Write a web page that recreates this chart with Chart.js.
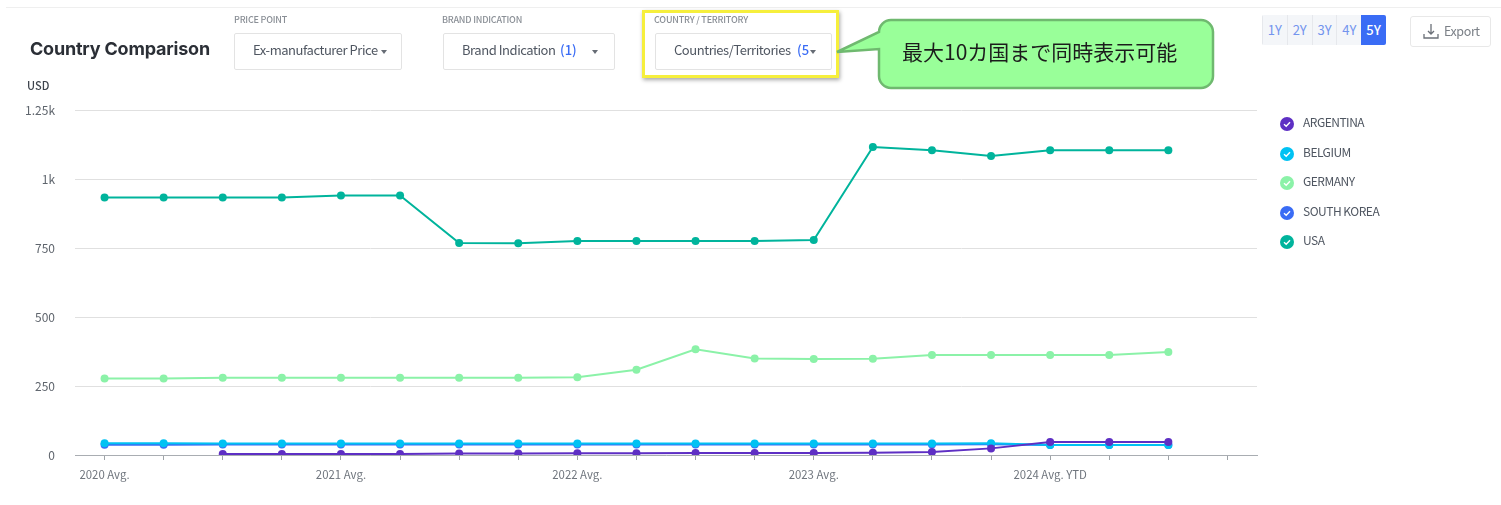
<!DOCTYPE html>
<html>
<head>
<meta charset="utf-8">
<title>Country Comparison</title>
<script src="https://cdn.jsdelivr.net/npm/chart.js@4"></script>
<style>
    html, body { margin: 0; padding: 0; background: #fff; }
    body { width: 1501px; height: 505px; position: relative; overflow: hidden; font-family: "Noto Sans CJK JP", sans-serif; color: #4f5661; }
    #chart { position: absolute; left: 0; top: 0; }
    .abs { position: absolute; white-space: nowrap; }
    .topline { left: 6px; right: 0; top: 7px; height: 1px; background: #efefef; }
    .title { left: 30px; top: 36px; font: 700 18px/26px Inter, sans-serif; color: #2b2f36; letter-spacing: -0.2px; }
    .unit { left: 27px; top: 78px; font-size: 11px; line-height: 14px; font-weight: 500; color: #3d434c; }
    .lab { font-size: 9px; line-height: 12px; font-weight: 500; color: #8a8f96; letter-spacing: -0.2px; }
    .drop { box-sizing: border-box; height: 37px; top: 33px; border: 1px solid #e3e3e3; border-radius: 2px; background: #fff; }
    .drop span { position: absolute; top: 6px; font-size: 13px; line-height: 20px; color: #4f5661; letter-spacing: -0.45px; }
    .drop span.n { color: #3a6cf5; font-weight: 500; letter-spacing: 0; }
    .caret { position: absolute; top: 16px; width: 0; height: 0; border-left: 3.5px solid transparent; border-right: 3.5px solid transparent; border-top: 4px solid #666c75; }
    .yellow { box-sizing: border-box; left: 642px; top: 10px; width: 197px; height: 68px; border: 3px solid #f6ef3c; box-shadow: 1px 2px 4px rgba(0,0,0,.35); }
    .range { left: 1262px; top: 15px; height: 30px; display: flex; border-radius: 2px; overflow: hidden; }
    .range div { width: 24.8px; text-align: center; font-size: 13px; line-height: 30px; background: #f4f6f9; color: #7394ee; border-left: 1px solid #e6e8ec; box-sizing: border-box; }
    .range div.on { background: #3a6cf5; color: #fff; border-left: 0; font-weight: 500; }
    .export { box-sizing: border-box; left: 1410px; top: 16px; width: 81px; height: 31px; border: 1px solid #e8e8e8; border-radius: 3px; }
    .export span { position: absolute; left: 33px; top: 4px; font-size: 12.5px; line-height: 20px; color: #7b8087; letter-spacing: -0.4px; }
    .leg { left: 1303px; font-size: 12px; line-height: 16px; color: #4f5661; letter-spacing: -0.5px; }
</style>
</head>
<body>
<canvas id="chart" width="1501" height="505"></canvas>

<div class="abs topline"></div>
<div class="abs title">Country Comparison</div>
<div class="abs unit">USD</div>

<div class="abs lab" style="left:234px;top:14px">PRICE POINT</div>
<div class="abs drop" style="left:234px;width:168px">
    <span style="left:18px">Ex-manufacturer Price</span><i class="caret" style="left:146px"></i>
</div>
<div class="abs lab" style="left:442px;top:14px">BRAND INDICATION</div>
<div class="abs drop" style="left:443px;width:172px">
    <span style="left:18px">Brand Indication</span><span class="n" style="left:116px">(1)</span><i class="caret" style="left:148px"></i>
</div>
<div class="abs yellow"></div>
<div class="abs lab" style="left:654px;top:14px">COUNTRY / TERRITORY</div>
<div class="abs drop" style="left:655px;width:177px">
    <span style="left:18px">Countries/Territories</span><span class="n" style="left:141px">(5</span><i class="caret" style="left:154px"></i>
</div>

<svg class="abs" style="left:830px;top:15px" width="390" height="80">
    <path d="M61 5 H371 a12 12 0 0 1 12 12 V61 a12 12 0 0 1 -12 12 H61 a12 12 0 0 1 -12 -12 V34 L7 37 L49 17 a12 12 0 0 1 12 -12 Z"
          fill="#99ff99" stroke="#6fb96f" stroke-width="2.5"/>
</svg>
<div class="abs" style="left:902px;top:36px;font-size:21px;line-height:30px;color:#1c1c1c">最大10カ国まで同時表示可能</div>

<div class="abs range" id="range"></div>
<div class="abs export">
    <svg style="position:absolute;left:12px;top:6px" width="17" height="17" fill="none" stroke="#6b7078" stroke-width="1.3">
        <path d="M8 1 V11 M5 8 L8 11 L11 8 M1 11 V15 H15 V11"/>
    </svg>
    <span>Export</span>
</div>

<script>
const categories = [
    "2020 Avg.", "", "", "", "2021 Avg.", "", "", "", "2022 Avg.", "", "", "", "2023 Avg.", "", "", "", "2024 Avg. YTD", "", "", ""
];
const yTicks = [0, 250, 500, 750, 1000, 1250];
const yTickLabels = ["0", "250", "500", "750", "1k", "1.25k"];
const rangeLabels = ["1Y", "2Y", "3Y", "4Y", "5Y"];

const seriesNames = ["ARGENTINA", "BELGIUM", "GERMANY", "SOUTH KOREA", "USA"];
const seriesColors = ["#5e2fc4", "#00c2f3", "#8bf2a8", "#3a6cf5", "#00b49c"];

const argentina = [null, null, 4, 4, 4, 4, 5, 5, 6, 6, 7, 7, 7, 8, 11, 24, 47, 47, 47];
const belgium = [43, 43, 42, 42, 42, 42, 42, 42, 42, 42, 42, 42, 42, 42, 42, 43, 36, 36, 36];
const germany = [277, 277, 280, 280, 280, 280, 280, 280, 282, 309, 383, 350, 348, 349, 362, 362, 362, 362, 373];
const southKorea = [37, 37, 38, 38, 38, 38, 38, 38, 38, 38, 38, 38, 38, 38, 38, 39, 36, 36, 36];
const usa = [933, 933, 933, 933, 940, 940, 768, 767, 775, 775, 775, 775, 779, 1116, 1104, 1083, 1104, 1104, 1104];

// first dataset ends up on top, same stacking as the reference
const seriesValues = [argentina, belgium, southKorea, germany, usa];
const seriesOrder = [0, 1, 3, 2, 4];

function makeDataset(values, i) {
    const color = seriesColors[seriesOrder[i]];
    return {
        label: seriesNames[seriesOrder[i]],
        data: values,
        borderColor: color,
        backgroundColor: color,
        pointBackgroundColor: color,
        pointBorderColor: color,
        pointRadius: 4,
        pointBorderWidth: 0,
        borderWidth: 2,
        tension: 0
    };
}

new Chart(document.getElementById("chart").getContext("2d"), {
    type: "line",
    data: {
        labels: categories,
        datasets: seriesValues.map(makeDataset)
    },
    options: {
        responsive: false,
        animation: false,
        layout: { padding: { left: 0, top: 110, right: 244, bottom: 0 } },
        plugins: { legend: { display: false }, tooltip: { enabled: false } },
        scales: {
            x: {
                offset: true,
                afterFit: s => { s.height = 50; },
                border: { color: "#a9adb2", width: 1 },
                grid: { drawOnChartArea: false, tickLength: 5, tickColor: "#9ea3a8", offset: false },
                ticks: {
                    autoSkip: false,
                    maxRotation: 0,
                    padding: 8,
                    color: "#6f757d",
                    font: { family: "Noto Sans CJK JP", size: 11.4 }
                }
            },
            y: {
                min: 0,
                max: 1250,
                afterFit: s => { s.width = 75; },
                afterBuildTicks: s => { s.ticks = yTicks.map(v => ({ value: v })); },
                border: { display: false },
                grid: { color: "#e0e0e0", drawTicks: false },
                ticks: {
                    padding: 20,
                    color: "#5f656d",
                    font: { family: "Noto Sans CJK JP", size: 12 },
                    callback: v => yTickLabels[yTicks.indexOf(v)]
                }
            }
        }
    }
});

document.getElementById("range").innerHTML = rangeLabels
    .map(r => `<div class="${r === "5Y" ? "on" : ""}">${r}</div>`)
    .join("");

// legend sits right of the plot, one row per country
seriesNames.forEach((name, i) => {
    const top = 124 + i * 29.6;
    document.body.insertAdjacentHTML("beforeend", `
        <svg class="abs" style="left:1280px;top:${top - 7}px" width="14" height="14">
            <circle cx="7" cy="7" r="7" fill="${seriesColors[i]}"/>
            <path d="M4 7.2 L6.2 9.3 L10 5.2" fill="none" stroke="#fff" stroke-width="1.4"/>
        </svg>
        <div class="abs leg" style="top:${top - 10}px">${name}</div>`);
});
</script>
</body>
</html>
